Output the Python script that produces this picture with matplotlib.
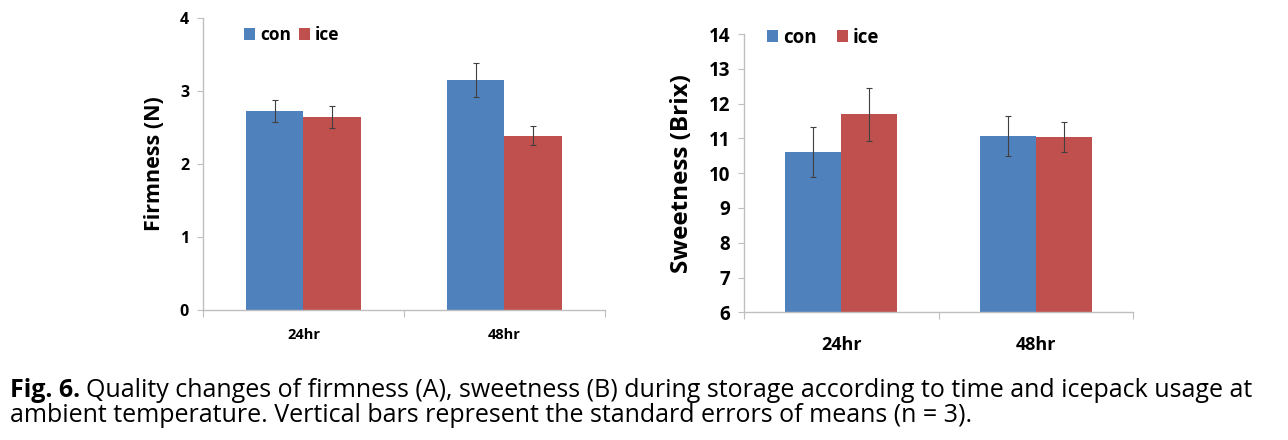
import matplotlib
matplotlib.use("Agg")
import matplotlib.pyplot as plt
import numpy as np

categories = ["24hr", "48hr"]
series = ["con", "ice"]
firm_con = [2.73, 3.15]
firm_ice = [2.65, 2.39]
firm_con_err = [0.15, 0.23]
firm_ice_err = [0.15, 0.13]
sweet_con = [10.61, 11.07]
sweet_ice = [11.69, 11.04]
sweet_con_err = [0.71, 0.57]
sweet_ice_err = [0.76, 0.44]

BLUE = "#4F81BD"
RED = "#C0504D"
AX = "#BFBFBF"
FONT = ["Open Sans", "DejaVu Sans"]
plt.rcParams['font.family'] = FONT

fig = plt.figure(figsize=(12.88, 4.40), dpi=100)

def panel(rect, con, ice, cerr, ierr, ylim, yticks, ylabel, tfs, xfs, xpad, lfs, labx,
          legfs, legpos, hl, tp, cs, bw):
    ax = fig.add_axes(rect)
    x = np.arange(len(categories))
    ax.bar(x - bw/2, con, bw, color=BLUE, label=series[0], zorder=2)
    ax.bar(x + bw/2, ice, bw, color=RED, label=series[1], zorder=2)
    ax.errorbar(x - bw/2, con, yerr=cerr, fmt='none', ecolor='#404040', elinewidth=0.8, capsize=2, capthick=0.8, zorder=3)
    ax.errorbar(x + bw/2, ice, yerr=ierr, fmt='none', ecolor='#404040', elinewidth=0.8, capsize=2, capthick=0.8, zorder=3)
    ax.set_xlim(-0.5, 1.5)
    ax.set_ylim(*ylim)
    ax.set_yticks(yticks)
    ax.set_yticklabels([str(t) for t in yticks], fontsize=tfs, fontweight='bold')
    ax.set_xticks([-0.5, 0.5, 1.5])
    ax.set_xticklabels([])
    ax.set_xticks(x, minor=True)
    ax.set_xticklabels(categories, minor=True, fontsize=xfs, fontweight='bold')
    ax.tick_params(axis='x', which='minor', length=0, pad=xpad)
    ax.tick_params(axis='x', which='major', length=5, color=AX, direction='out')
    ax.tick_params(axis='y', length=4, color=AX, direction='out', pad=6)
    for s in ['top', 'right']:
        ax.spines[s].set_visible(False)
    for s in ['left', 'bottom']:
        ax.spines[s].set_color(AX)
        ax.spines[s].set_linewidth(1.0)
    ax.set_ylabel(ylabel, fontsize=lfs, fontweight='bold')
    ax.yaxis.set_label_coords(labx, 0.5)
    ax.legend(loc='center left', bbox_to_anchor=legpos, ncol=2, frameon=False,
              prop={'size': legfs, 'weight': 'bold', 'family': FONT},
              handlelength=hl, handleheight=hl, handletextpad=tp, columnspacing=cs,
              borderaxespad=0, borderpad=0)
    return ax

ax1 = panel([0.1576, 0.2955, 0.3121, 0.6635], firm_con, firm_ice, firm_con_err, firm_ice_err,
            (0, 4), [0, 1, 2, 3, 4], "Firmness (N)", 11.5, 10.5, 13, 15.5, -0.0945,
            12.5, (0.102, 0.942), 0.63, 0.29, 0.46, 0.286)
ax2 = panel([0.5776, 0.2902, 0.3021, 0.6325], sweet_con, sweet_ice, sweet_con_err, sweet_ice_err,
            (6, 14), list(range(6, 15)), "Sweetness (Brix)", 13.5, 13, 17, 17.5, -0.128,
            13.5, (0.059, 0.987), 0.59, 0.27, 1.07, 0.288)

# caption
renderer = fig.canvas.get_renderer()
t1 = fig.text(10/1288, 1-397/440, "Fig. 6.", fontsize=18, fontweight='bold', va='baseline', ha='left')
bb = t1.get_window_extent(renderer)
fig.text((bb.x1 + 6)/1288, 1-397/440,
         "Quality changes of firmness (A), sweetness (B) during storage according to time and icepack usage at",
         fontsize=18, va='baseline', ha='left')
fig.text(10/1288, 1-422/440,
         "ambient temperature. Vertical bars represent the standard errors of means (n = 3).",
         fontsize=18, va='baseline', ha='left')

fig.savefig("out.png", dpi=100)
